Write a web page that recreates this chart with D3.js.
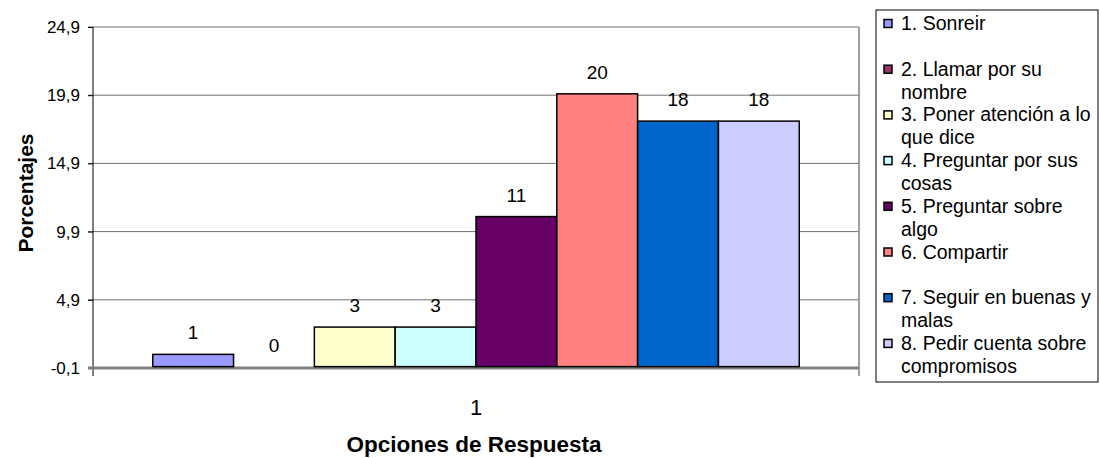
<!DOCTYPE html>
<html>
<head>
<meta charset="utf-8">
<script src="https://cdn.jsdelivr.net/npm/d3@7"></script>
<style>
  body { margin: 0; background: #fff; }
  text { font-family: "Liberation Sans", Arial, sans-serif; fill: #000; }
</style>
</head>
<body>
<div id="chart"></div>
<script>
//Chart data
let categories = ["1"];
let seriesNames = [
  "1. Sonreir",
  "2. Llamar por su nombre",
  "3. Poner atención a lo que dice",
  "4. Preguntar por sus cosas",
  "5. Preguntar sobre algo",
  "6. Compartir",
  "7. Seguir en buenas y malas",
  "8. Pedir cuenta sobre compromisos"
];
let seriesValues = [0.9, 0, 2.9, 2.9, 11, 20, 18, 18];
let seriesColors = ["#9999ff", "#993366", "#ffffcc", "#ccffff", "#660066", "#ff8080", "#0066cc", "#ccccff"];
let yTicks = [-0.1, 4.9, 9.9, 14.9, 19.9, 24.9];
let yTitle = "Porcentajes";
let xTitle = "Opciones de Respuesta";

//Size of the whole picture and of the plot area
let totalWidth = 1100, totalHeight = 458;
let margin = { top: 27, left: 93 },
  width = 766,
  height = 341;

//Comma as decimal mark, plain hyphen as minus
let locale = d3.formatLocale({ decimal: ",", thousands: ".", grouping: [3], currency: ["", ""], minus: "-" });
let tickFormat = locale.format(".1f");
let labelFormat = d3.format(".0f");

let svg = d3
  .select("#chart")
  .append("svg")
  .attr("width", totalWidth)
  .attr("height", totalHeight);

let g = svg
  .append("g")
  .attr("transform", "translate(" + margin.left + "," + margin.top + ")");

//Scales: one band for the category, inner bands for the 8 series
let yScale = d3.scaleLinear().domain([yTicks[0], yTicks[yTicks.length - 1]]).range([height, 0]);
let x0 = d3.scaleBand().domain(categories).range([0, width]);
let gap = width * 0.078;
let x1 = d3.scaleBand().domain(seriesNames).range([gap, x0.bandwidth() - gap]);

//Grid lines (they start at the tick mark left of the axis)
g.append("g")
  .selectAll("line")
  .data(yTicks.slice(1))
  .enter()
  .append("line")
  .attr("x1", -5)
  .attr("x2", width)
  .attr("y1", d => yScale(d))
  .attr("y2", d => yScale(d))
  .attr("stroke", "#707070")
  .attr("stroke-width", 1);

//Right border of the plot area
g.append("line")
  .attr("x1", width)
  .attr("x2", width)
  .attr("y1", 0)
  .attr("y2", height + 8)
  .attr("stroke", "#808080")
  .attr("stroke-width", 1.5);

//Left axis
let yAxis = g.append("g")
  .call(d3.axisLeft(yScale).tickValues(yTicks).tickSize(5).tickPadding(8).tickFormat(tickFormat));
yAxis.select(".domain").remove();
yAxis.selectAll("line").attr("stroke", "#000");
yAxis.selectAll("text").style("font-size", "17px").attr("fill", "#000");

g.append("line")
  .attr("x1", 0)
  .attr("x2", 0)
  .attr("y1", 0)
  .attr("y2", height + 8)
  .attr("stroke", "#000")
  .attr("stroke-width", 1);

//Bottom axis at the lowest tick
g.append("line")
  .attr("x1", -5)
  .attr("x2", width)
  .attr("y1", yScale(yTicks[0]))
  .attr("y2", yScale(yTicks[0]))
  .attr("stroke", "#808080")
  .attr("stroke-width", 3);

let xAxis = g.append("g")
  .attr("transform", "translate(0," + height + ")")
  .call(d3.axisBottom(x0).tickSize(0).tickPadding(31));
xAxis.select(".domain").remove();
xAxis.selectAll("text").style("font-size", "22px").attr("fill", "#000");

//Bars
let bars = g.append("g")
  .selectAll("g")
  .data(categories)
  .enter()
  .append("g")
  .attr("transform", d => "translate(" + x0(d) + ",0)");

bars.selectAll("rect")
  .data(seriesNames.map((s, i) => ({ name: s, value: seriesValues[i], color: seriesColors[i] })))
  .enter()
  .append("rect")
  .attr("x", d => x1(d.name))
  .attr("width", x1.bandwidth())
  .attr("y", d => yScale(d.value))
  .attr("height", d => yScale(0) - yScale(d.value))
  .attr("fill", d => d.color)
  .attr("stroke", d => (d.value > 0 ? "#000" : "none"))
  .attr("stroke-width", 1.5);

//Value labels
bars.selectAll("text")
  .data(seriesNames.map((s, i) => ({ name: s, value: seriesValues[i] })))
  .enter()
  .append("text")
  .attr("x", d => x1(d.name) + x1.bandwidth() / 2)
  .attr("y", d => yScale(d.value) - 15)
  .attr("text-anchor", "middle")
  .style("font-size", "19px")
  .text(d => labelFormat(d.value));

//Axis titles
svg.append("text")
  .attr("transform", "translate(33,193) rotate(-90)")
  .attr("text-anchor", "middle")
  .style("font-size", "21px")
  .style("font-weight", "bold")
  .text(yTitle);

svg.append("text")
  .attr("x", 474)
  .attr("y", 452)
  .attr("text-anchor", "middle")
  .style("font-size", "22.5px")
  .style("font-weight", "bold")
  .text(xTitle);

//Legend
let legend = svg.append("g").attr("transform", "translate(876,10)");
legend.append("rect")
  .attr("width", 222)
  .attr("height", 372)
  .attr("fill", "#fff")
  .attr("stroke", "#000")
  .attr("stroke-width", 1);

let item = legend.selectAll(".item")
  .data(seriesNames)
  .enter()
  .append("g")
  .attr("class", "item")
  .attr("transform", (d, i) => "translate(0," + (20 + i * 45.7) + ")");

item.append("rect")
  .attr("x", 8)
  .attr("y", -10.5)
  .attr("width", 8)
  .attr("height", 8)
  .attr("fill", (d, i) => seriesColors[i])
  .attr("stroke", "#000")
  .attr("stroke-width", 1.5);

item.append("text")
  .attr("x", 25)
  .style("font-size", "19.5px")
  .each(function (d) {
    //Wrap the legend text to the legend width
    let text = d3.select(this);
    let words = d.split(" ");
    let line = [];
    let lineNr = 0;
    let tspan = text.append("tspan").attr("x", 25).attr("y", 0);
    words.forEach(function (w) {
      line.push(w);
      tspan.text(line.join(" "));
      if (tspan.node().getComputedTextLength() > 196 && line.length > 1) {
        line.pop();
        tspan.text(line.join(" "));
        line = [w];
        lineNr++;
        tspan = text.append("tspan").attr("x", 25).attr("y", lineNr * 23).text(w);
      }
    });
  });
</script>
</body>
</html>
